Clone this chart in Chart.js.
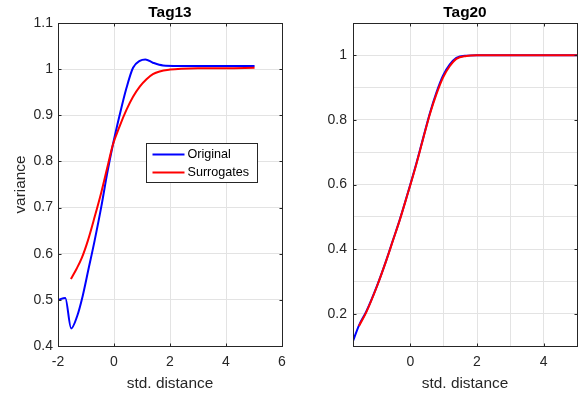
<!DOCTYPE html>
<html lang="en">
<head>
<meta charset="UTF-8">
<title>Tag13 / Tag20 - variance vs std. distance</title>
<script src="https://cdn.jsdelivr.net/npm/chart.js"></script>
<style>
  body { margin: 0; padding: 0; background: #fff; }
  .wrap { position: relative; width: 588px; height: 396px; }
  canvas { position: absolute; top: 0; }
  #c13 { left: 0; }
  #c20 { left: 294px; }
</style>
</head>
<body>
<div class="wrap">
  <canvas id="c13" width="294" height="396"></canvas>
  <canvas id="c20" width="294" height="396"></canvas>
</div>
<script>
// Tag13 - Original
const tag13OrigX = [-2, -1.74, -1.53, -1.32, -1.12, -0.92, -0.69, -0.45, -0.25, -0.04, 0.2, 0.44, 0.68, 0.92, 1.12, 1.39, 1.75, 2.3, 3, 4, 5.02];
const tag13OrigY = [0.5, 0.504, 0.438, 0.464, 0.508, 0.564, 0.629, 0.703, 0.772, 0.836, 0.9, 0.958, 1.003, 1.018, 1.021, 1.014, 1.008, 1.007, 1.007, 1.007, 1.007];
// Tag13 - Surrogates
const tag13SurrX = [-1.54, -1.34, -1.15, -0.93, -0.69, -0.45, -0.25, -0.04, 0.2, 0.44, 0.68, 0.92, 1.16, 1.39, 1.63, 2.0, 2.4, 3, 4, 5.02];
const tag13SurrY = [0.545, 0.567, 0.591, 0.629, 0.68, 0.734, 0.784, 0.836, 0.876, 0.911, 0.94, 0.962, 0.978, 0.989, 0.995, 0.999, 1.001, 1.002, 1.002, 1.003];

// Tag20 - Original
const tag20OrigX = [-1.72, -1.54, -1.32, -1.0, -0.72, -0.52, -0.32, -0.12, 0.18, 0.38, 0.59, 0.78, 0.98, 1.18, 1.38, 1.68, 2.0, 3, 4, 5];
const tag20OrigY = [0.115, 0.164, 0.207, 0.286, 0.366, 0.428, 0.49, 0.558, 0.665, 0.742, 0.822, 0.884, 0.937, 0.971, 0.992, 0.999, 1.0, 1.0, 1.0, 1.0];
// Tag20 - Surrogates
const tag20SurrX = [-1.54, -1.32, -1.0, -0.72, -0.52, -0.32, -0.12, 0.18, 0.38, 0.59, 0.78, 0.98, 1.18, 1.38, 1.68, 2.0, 3, 4, 5];
const tag20SurrY = [0.162, 0.205, 0.285, 0.365, 0.427, 0.489, 0.557, 0.663, 0.74, 0.819, 0.879, 0.931, 0.966, 0.989, 0.998, 1.0, 1.0, 1.0, 1.0];

// tick labels
const tag13XTicks = [-2, 0, 2, 4, 6];
const tag13YTicks = [0.4, 0.5, 0.6, 0.7, 0.8, 0.9, 1, 1.1];
const tag20XTicks = [0, 2, 4];
const tag20YTicks = [0.2, 0.4, 0.6, 0.8, 1];

const seriesNames = ['Original', 'Surrogates'];
const seriesColors = ['#0000ff', '#ff0000'];

Chart.defaults.font.family = '"Liberation Sans", Arial, sans-serif';
Chart.defaults.color = '#262626';

function pts(xs, ys) {
    return xs.map((x, i) => ({ x: x, y: ys[i] }));
}

function isTick(list, v) {
    return list.some(t => Math.abs(t - v) < 1e-6);
}

// axes box, inward ticks, title and legend like the matlab figure
const matlabBox = {
    id: 'matlabBox',
    afterDraw(chart, args, opts) {
        const { ctx, chartArea: a, scales } = chart;
        const L = Math.round(a.left) + 0.5, R = Math.round(a.right) + 0.5;
        const T = Math.round(a.top) + 0.5, B = Math.round(a.bottom) + 0.5;
        ctx.save();
        ctx.strokeStyle = '#262626';
        ctx.lineWidth = 1;
        ctx.strokeRect(L, T, R - L, B - T);
        ctx.beginPath();
        opts.xTicks.forEach(v => {
            const px = Math.round(scales.x.getPixelForValue(v)) + 0.5;
            ctx.moveTo(px, B); ctx.lineTo(px, B - 3);
            ctx.moveTo(px, T); ctx.lineTo(px, T + 3);
        });
        opts.yTicks.forEach(v => {
            const py = Math.round(scales.y.getPixelForValue(v)) + 0.5;
            ctx.moveTo(L, py); ctx.lineTo(L + 3, py);
            ctx.moveTo(R, py); ctx.lineTo(R - 3, py);
        });
        ctx.stroke();

        ctx.fillStyle = '#000';
        ctx.font = 'bold 15.4px "Liberation Sans", Arial, sans-serif';
        ctx.textAlign = 'center';
        ctx.textBaseline = 'alphabetic';
        ctx.fillText(opts.title, (a.left + a.right) / 2, 16.5);

        if (opts.legend) {
            const bx = Math.round(a.left + 88) + 0.5, by = Math.round(a.top + 120) + 0.5;
            const bw = 111, bh = 39;
            ctx.fillStyle = '#fff';
            ctx.fillRect(bx, by, bw, bh);
            ctx.strokeStyle = '#262626';
            ctx.strokeRect(bx, by, bw, bh);
            ctx.font = '12.6px "Liberation Sans", Arial, sans-serif';
            ctx.textAlign = 'left';
            ctx.textBaseline = 'middle';
            seriesNames.forEach((name, i) => {
                const ly = by + 11 + i * 18;
                ctx.strokeStyle = seriesColors[i];
                ctx.lineWidth = 2;
                ctx.beginPath();
                ctx.moveTo(bx + 6, ly); ctx.lineTo(bx + 38, ly);
                ctx.stroke();
                ctx.fillStyle = '#000';
                ctx.fillText(name, bx + 41, ly);
            });
        }
        ctx.restore();
    }
};

function makeChart(id, cfg) {
    const datasets = [
        { label: seriesNames[0], data: pts(cfg.origX, cfg.origY), borderColor: seriesColors[0], order: 2 },
        { label: seriesNames[1], data: pts(cfg.surrX, cfg.surrY), borderColor: seriesColors[1], order: 1 }
    ].map(d => Object.assign(d, {
        borderWidth: 2, pointRadius: 0, fill: false, cubicInterpolationMode: 'monotone'
    }));

    return new Chart(document.getElementById(id), {
        type: 'line',
        data: { datasets: datasets },
        options: {
            responsive: false,
            animation: false,
            events: [],
            layout: { padding: { top: 23, right: cfg.padRight, bottom: 0, left: 0 } },
            scales: {
                x: {
                    type: 'linear',
                    min: cfg.xMin, max: cfg.xMax,
                    afterFit: s => { s.height = 50; },
                    border: { display: false },
                    grid: {
                        drawTicks: false,
                        color: c => isTick(cfg.xGrid, c.tick.value) ? '#e3e3e3' : 'rgba(0,0,0,0)'
                    },
                    ticks: {
                        stepSize: cfg.xStep,
                        autoSkip: false,
                        maxRotation: 0,
                        padding: 8,
                        font: { size: 14 },
                        callback: v => isTick(cfg.xTicks, v) ? String(+v.toFixed(1)) : ''
                    },
                    title: {
                        display: true, text: 'std. distance',
                        font: { size: 15.4 }, padding: { top: 0, bottom: 3.5 }
                    }
                },
                y: {
                    min: cfg.yMin, max: cfg.yMax,
                    afterFit: s => { s.width = cfg.yWidth; },
                    border: { display: false },
                    grid: { drawTicks: false, color: '#e3e3e3' },
                    ticks: {
                        stepSize: 0.1,
                        autoSkip: false,
                        padding: cfg.yPad,
                        font: { size: 14 },
                        callback: v => isTick(cfg.yTicks, v) ? String(+v.toFixed(1)) : ''
                    },
                    title: {
                        display: cfg.yTitle, text: 'variance',
                        font: { size: 15.4 }, padding: { top: 12, bottom: 0 }
                    }
                }
            },
            plugins: {
                legend: { display: false },
                tooltip: { enabled: false },
                matlabBox: { title: cfg.title, xTicks: cfg.xTicks, yTicks: cfg.yTicks, legend: cfg.legend }
            }
        },
        plugins: [matlabBox]
    });
}

makeChart('c13', {
    title: 'Tag13',
    origX: tag13OrigX, origY: tag13OrigY, surrX: tag13SurrX, surrY: tag13SurrY,
    xMin: -2, xMax: 6, xStep: 2, xTicks: tag13XTicks, xGrid: tag13XTicks,
    yMin: 0.4, yMax: 1.1, yTicks: tag13YTicks,
    yWidth: 58, yPad: 5, padRight: 12, yTitle: true, legend: true
});

makeChart('c20', {
    title: 'Tag20',
    origX: tag20OrigX, origY: tag20OrigY, surrX: tag20SurrX, surrY: tag20SurrY,
    xMin: -1.72, xMax: 5, xStep: 1, xTicks: tag20XTicks, xGrid: [-1, 0, 1, 2, 3, 4, 5],
    yMin: 0.1, yMax: 1.1, yTicks: tag20YTicks,
    yWidth: 59, yPad: 6, padRight: 11, yTitle: false, legend: false
});
</script>
</body>
</html>
